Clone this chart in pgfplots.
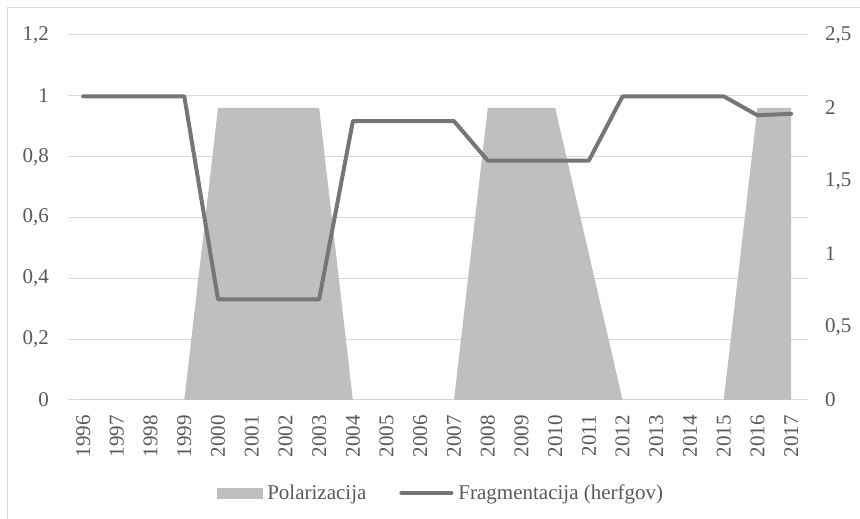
\documentclass[border=0pt]{standalone}
\usepackage{fontspec}
\setmainfont{Liberation Serif}
\usepackage{pgfplots}
\usepackage{pgfplotstable}
\pgfplotsset{compat=1.18}
\definecolor{txt}{HTML}{595959}
\definecolor{gridc}{HTML}{D9D9D9}
\definecolor{areac}{HTML}{BFBFBF}
\definecolor{linec}{HTML}{767676}
\pgfplotstableread{
x pol frag
0 0 2.08
1 0 2.08
2 0 2.08
3 0 2.08
4 0.96 0.69
5 0.96 0.69
6 0.96 0.69
7 0.96 0.69
8 0 1.91
9 0 1.91
10 0 1.91
11 0 1.91
12 0.96 1.64
13 0.96 1.64
14 0.96 1.64
15 0.48 1.64
16 0 2.08
17 0 2.08
18 0 2.08
19 0 2.08
20 0.96 1.95
21 0.96 1.96
}\data
\begin{document}
\begin{tikzpicture}[x=1bp,y=1bp,font=\fontsize{21bp}{25bp}\selectfont]
\useasboundingbox (0,0) rectangle (860,519);
\draw[gridc, line width=1bp] (7,0) -- (7,511) -- (860,511);
\pgfplotsset{
  base/.style={
    at={(68bp,119bp)}, anchor=south west, scale only axis,
    width=740bp, height=365bp, xmin=-0.45, xmax=21.5,
    axis line style={draw=none}, tick style={draw=none},
    tick label style={text=txt, inner sep=0pt},
    clip=true,
  }
}
\begin{axis}[base,
  ymin=0, ymax=1.2,
  ytick={0,0.2,0.4,0.6,0.8,1,1.2},
  yticklabels={0,{0,2},{0,4},{0,6},{0,8},1,{1,2}},
  yticklabel style={anchor=east}, yticklabel shift=19bp,
  ymajorgrids, grid style={gridc, line width=1bp},
  xtick={0,...,21},
  xticklabels={1996,1997,1998,1999,2000,2001,2002,2003,2004,2005,2006,2007,2008,2009,2010,2011,2012,2013,2014,2015,2016,2017},
  xticklabel style={rotate=90, anchor=east}, xticklabel shift=15bp,
]
\addplot[fill=areac, draw=none] table[x=x,y=pol]{\data} \closedcycle;
\end{axis}
\begin{axis}[base,
  ymin=0, ymax=2.5,
  axis y line*=right, axis x line=none,
  ytick={0,0.5,1,1.5,2,2.5},
  yticklabels={0,{0,5},1,{1,5},2,{2,5}},
  yticklabel style={anchor=west}, yticklabel shift=17bp,
  legend style={draw=none, fill=none, at={(0.5,0)}, anchor=center, yshift=-93bp, xshift=2bp,
    legend columns=2, nodes={inner sep=0pt, text=txt},
    /tikz/every odd column/.append style={column sep=5bp},
    /tikz/every even column/.append style={column sep=33bp}},
  legend cell align=left,
]
\addlegendimage{legend image code/.code={\fill[areac] (0bp,-5bp) rectangle (45bp,5bp);}}
\addlegendentry{Polarizacija}
\addplot[linec, line width=4bp, line cap=round, line join=round,
  legend image code/.code={\draw[linec, line width=4bp, line cap=round] (0bp,0bp) -- (50bp,0bp);}]
  table[x=x,y=frag]{\data};
\addlegendentry{Fragmentacija (herfgov)}
\end{axis}
\end{tikzpicture}
\end{document}
